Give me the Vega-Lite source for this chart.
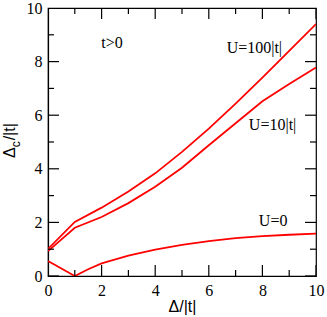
{
  "$schema": "https://vega.github.io/schema/vega-lite/v6.json",
  "width": 268,
  "height": 268,
  "autosize": {"type": "none"},
  "padding": {"left": 48, "top": 8, "right": 11, "bottom": 41},
  "background": "white",
  "config": {
    "view": {"stroke": "black", "strokeWidth": 1.2, "fill": null},
    "axis": {
      "zindex": 1,
      "grid": false,
      "ticks": false,
      "domainColor": "black",
      "domainWidth": 1.2,
      "labelFont": "Liberation Serif",
      "labelFontSize": 16,
      "labelColor": "black",
      "titleFont": "Liberation Sans",
      "titleFontSize": 16,
      "titleFontWeight": "normal",
      "titleColor": "black"
    }
  },
  "datasets": {
    "curves": [
      {"U": "U=100", "x": 0, "y": 1.01},
      {"U": "U=100", "x": 1, "y": 2.02},
      {"U": "U=100", "x": 2, "y": 2.55},
      {"U": "U=100", "x": 3, "y": 3.15},
      {"U": "U=100", "x": 4, "y": 3.83},
      {"U": "U=100", "x": 5, "y": 4.63},
      {"U": "U=100", "x": 6, "y": 5.5},
      {"U": "U=100", "x": 7, "y": 6.43},
      {"U": "U=100", "x": 8, "y": 7.4},
      {"U": "U=100", "x": 9, "y": 8.4},
      {"U": "U=100", "x": 10, "y": 9.4},
      {"U": "U=10", "x": 0, "y": 0.93},
      {"U": "U=10", "x": 1, "y": 1.8},
      {"U": "U=10", "x": 2, "y": 2.2},
      {"U": "U=10", "x": 3, "y": 2.72},
      {"U": "U=10", "x": 4, "y": 3.33},
      {"U": "U=10", "x": 5, "y": 4.04},
      {"U": "U=10", "x": 6, "y": 4.88},
      {"U": "U=10", "x": 7, "y": 5.7},
      {"U": "U=10", "x": 8, "y": 6.52},
      {"U": "U=10", "x": 9, "y": 7.16},
      {"U": "U=10", "x": 10, "y": 7.78},
      {"U": "U=0", "x": 0, "y": 0.56},
      {"U": "U=0", "x": 1, "y": 0},
      {"U": "U=0", "x": 1.5, "y": 0.25},
      {"U": "U=0", "x": 2, "y": 0.47},
      {"U": "U=0", "x": 3, "y": 0.76},
      {"U": "U=0", "x": 4, "y": 0.98},
      {"U": "U=0", "x": 5, "y": 1.16},
      {"U": "U=0", "x": 6, "y": 1.3},
      {"U": "U=0", "x": 7, "y": 1.41},
      {"U": "U=0", "x": 8, "y": 1.49},
      {"U": "U=0", "x": 9, "y": 1.54},
      {"U": "U=0", "x": 10, "y": 1.58}
    ],
    "labels": [
      {"text": "t>0", "x": 2.39, "y": 8.68},
      {"text": "U=100|t|", "x": 7.7, "y": 8.49},
      {"text": "U=10|t|", "x": 8.38, "y": 5.62},
      {"text": "U=0", "x": 8.4, "y": 2.06}
    ],
    "ytitle": [
      {"x": -1.24, "y": 4.8}
    ],
    "tickvals": [
      {"v": 0}, {"v": 1}, {"v": 2}, {"v": 3}, {"v": 4}, {"v": 5},
      {"v": 6}, {"v": 7}, {"v": 8}, {"v": 9}, {"v": 10}
    ]
  },
  "layer": [
    {
      "data": {"name": "curves"},
      "mark": {"type": "line", "color": "#ff0000", "strokeWidth": 1.8, "clip": true},
      "encoding": {
        "x": {
          "field": "x", "type": "quantitative",
          "scale": {"domain": [0, 10], "nice": false, "zero": false},
          "axis": {
            "orient": "bottom",
            "values": [0, 2, 4, 6, 8, 10],
            "labelPadding": 6,
            "labelFlush": false,
            "labelOverlap": false,
            "title": "Δ/|t|",
            "titlePadding": 0
          }
        },
        "y": {
          "field": "y", "type": "quantitative",
          "scale": {"domain": [0, 10], "nice": false, "zero": false},
          "axis": {
            "orient": "left",
            "values": [0, 2, 4, 6, 8, 10],
            "labelPadding": 6,
            "labelFlush": false,
            "labelOverlap": false,
            "title": null
          }
        },
        "detail": {"field": "U", "type": "nominal"}
      }
    },
    {
      "data": {"name": "tickvals"},
      "mark": {"type": "tick", "orient": "vertical", "color": "black", "thickness": 1.2, "clip": true, "opacity": 1},
      "encoding": {
        "x": {"field": "v", "type": "quantitative", "scale": {"domain": [0, 10], "nice": false, "zero": false}},
        "y": {"datum": 0, "type": "quantitative", "scale": {"domain": [0, 10], "nice": false, "zero": false}},
        "size": {"condition": {"test": "datum.v % 2 === 0", "value": 22}, "value": 12}
      }
    },
    {
      "data": {"name": "tickvals"},
      "mark": {"type": "tick", "orient": "vertical", "color": "black", "thickness": 1.2, "clip": true, "opacity": 1},
      "encoding": {
        "x": {"field": "v", "type": "quantitative", "scale": {"domain": [0, 10], "nice": false, "zero": false}},
        "y": {"datum": 10, "type": "quantitative", "scale": {"domain": [0, 10], "nice": false, "zero": false}},
        "size": {"condition": {"test": "datum.v % 2 === 0", "value": 22}, "value": 12}
      }
    },
    {
      "data": {"name": "tickvals"},
      "mark": {"type": "tick", "orient": "horizontal", "color": "black", "thickness": 1.2, "clip": true, "opacity": 1},
      "encoding": {
        "y": {"field": "v", "type": "quantitative", "scale": {"domain": [0, 10], "nice": false, "zero": false}},
        "x": {"datum": 0, "type": "quantitative", "scale": {"domain": [0, 10], "nice": false, "zero": false}},
        "size": {"condition": {"test": "datum.v % 2 === 0", "value": 22}, "value": 12}
      }
    },
    {
      "data": {"name": "tickvals"},
      "mark": {"type": "tick", "orient": "horizontal", "color": "black", "thickness": 1.2, "clip": true, "opacity": 1},
      "encoding": {
        "y": {"field": "v", "type": "quantitative", "scale": {"domain": [0, 10], "nice": false, "zero": false}},
        "x": {"datum": 10, "type": "quantitative", "scale": {"domain": [0, 10], "nice": false, "zero": false}},
        "size": {"condition": {"test": "datum.v % 2 === 0", "value": 22}, "value": 12}
      }
    },
    {
      "data": {"name": "labels"},
      "mark": {"type": "text", "font": "Liberation Serif", "fontSize": 16, "color": "black", "align": "center", "baseline": "middle"},
      "encoding": {
        "x": {"field": "x", "type": "quantitative", "scale": {"domain": [0, 10], "nice": false, "zero": false}},
        "y": {"field": "y", "type": "quantitative", "scale": {"domain": [0, 10], "nice": false, "zero": false}},
        "text": {"field": "text", "type": "nominal"}
      }
    },
    {
      "data": {"name": "ytitle"},
      "mark": {"type": "text", "font": "Liberation Sans", "fontSize": 16, "color": "black", "angle": 270, "align": "right", "baseline": "alphabetic"},
      "encoding": {
        "x": {"field": "x", "type": "quantitative", "scale": {"domain": [0, 10], "nice": false, "zero": false}},
        "y": {"field": "y", "type": "quantitative", "scale": {"domain": [0, 10], "nice": false, "zero": false}},
        "text": {"value": "Δ"}
      }
    },
    {
      "data": {"name": "ytitle"},
      "mark": {"type": "text", "font": "Liberation Sans", "fontSize": 12, "color": "black", "angle": 270, "align": "left", "baseline": "alphabetic", "dy": 5},
      "encoding": {
        "x": {"field": "x", "type": "quantitative", "scale": {"domain": [0, 10], "nice": false, "zero": false}},
        "y": {"field": "y", "type": "quantitative", "scale": {"domain": [0, 10], "nice": false, "zero": false}},
        "text": {"value": "c"}
      }
    },
    {
      "data": {"name": "ytitle"},
      "mark": {"type": "text", "font": "Liberation Sans", "fontSize": 16, "color": "black", "angle": 270, "align": "left", "baseline": "alphabetic", "dx": 7},
      "encoding": {
        "x": {"field": "x", "type": "quantitative", "scale": {"domain": [0, 10], "nice": false, "zero": false}},
        "y": {"field": "y", "type": "quantitative", "scale": {"domain": [0, 10], "nice": false, "zero": false}},
        "text": {"value": "/|t|"}
      }
    }
  ]
}
